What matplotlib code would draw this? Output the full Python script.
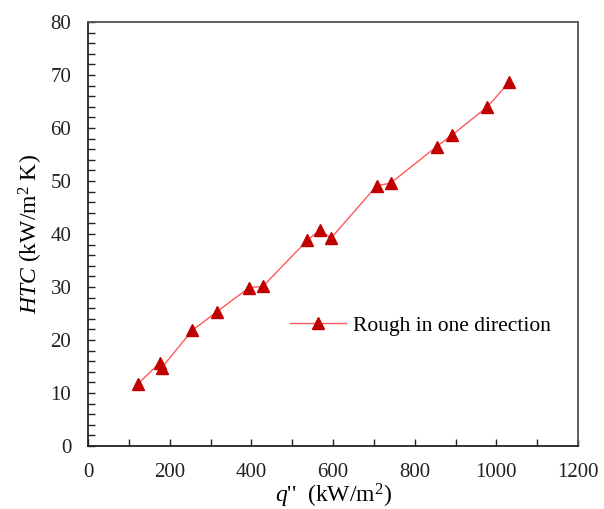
import numpy as np
import matplotlib
matplotlib.use('Agg')
import matplotlib.pyplot as plt
from matplotlib.ticker import MultipleLocator

plt.rcParams.update({'font.size': 15})
plt.rcParams.update({"font.family": "serif"})
plt.rcParams.update({'font.serif': ['Liberation Serif', 'DejaVu Serif']})
plt.rcParams.update({"mathtext.fontset": "custom"})
plt.rcParams.update({"mathtext.rm": "Liberation Serif"})
plt.rcParams.update({"mathtext.it": "Liberation Serif:italic"})

#==============================================================================
# DATA
#==============================================================================
q_flux = [122, 176, 181, 255, 315, 395, 428, 537, 568, 595, 707, 741, 854, 892, 978, 1032]   # [kW/m^2]
htc = [11.7, 15.7, 14.8, 21.8, 25.3, 29.9, 30.1, 38.8, 40.8, 39.2, 49.1, 49.6, 56.5, 58.7, 64.0, 68.7]  # [kW/m^2 K]
series_label = 'Rough in one direction'

#==============================================================================
# Plot
fig = plt.figure(figsize=(6.04, 5.09), dpi=100)
ax = fig.add_axes([0.1457, 0.1238, 0.8113, 0.833])

ax.plot(q_flux, htc, color='#ff5a5a', lw=1.0, marker='^', ms=9,
        mfc='#c00000', mec='#c00000', label=series_label)

ax.set_xlim(0, 1200)
ax.set_ylim(0, 80)
ax.xaxis.set_major_locator(MultipleLocator(200))
ax.xaxis.set_minor_locator(MultipleLocator(100))
ax.yaxis.set_major_locator(MultipleLocator(10))
ax.yaxis.set_minor_locator(MultipleLocator(2))
ax.tick_params(which='both', direction='in', length=5, width=1.0, color='#222222')
ax.tick_params(which='major', labelsize=15, pad=12, labelcolor='#222222')
ax.tick_params(axis='x', which='major', pad=12)
ax.tick_params(top=False, right=False, which='both')
for s in ax.spines.values():
    s.set_linewidth(1.3)
    s.set_color('#222222')
ax.spines['right'].set_color('#555555')
ax.spines['top'].set_color('#555555')

ax.set_xlabel(r"$q$''  (kW/m$^2$)", fontsize=17, labelpad=0)
ax.set_ylabel(r"$HTC$ (kW/m$^2$ K)", fontsize=17, labelpad=4)

ax.legend(loc='center left', bbox_to_anchor=(0.413, 0.283), frameon=False,
          fontsize=15.5, handlelength=2.6, borderpad=0, borderaxespad=0,
          handletextpad=0.3)

fig.savefig('out.png', dpi=100)
